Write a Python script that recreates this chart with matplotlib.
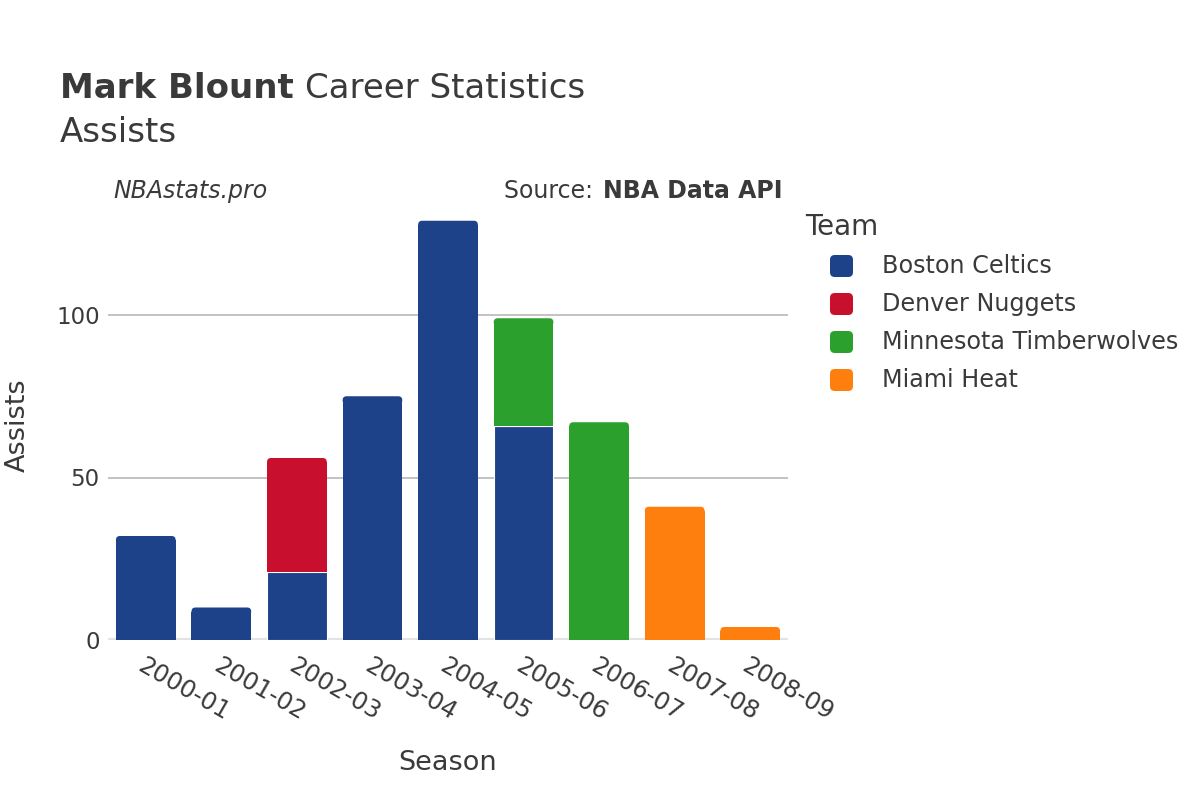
import numpy as np
import matplotlib
matplotlib.use("Agg")
import matplotlib.pyplot as plt
from matplotlib.patches import FancyBboxPatch

# Season assists per team
seasons = ["2000-01", "2001-02", "2002-03", "2003-04", "2004-05",
           "2005-06", "2006-07", "2007-08", "2008-09"]
teams = ["Boston Celtics", "Denver Nuggets", "Minnesota Timberwolves", "Miami Heat"]
boston = [32, 10, 21, 75, 129, 66, 0, 0, 0]
denver = [0, 0, 35, 0, 0, 0, 0, 0, 0]
minnesota = [0, 0, 0, 0, 0, 33, 67, 0, 0]
miami = [0, 0, 0, 0, 0, 0, 0, 41, 4]
colors = ["#1d428a", "#c8102e", "#2ca02c", "#ff7f0e"]

yticks = [0, 50, 100]
text_col = "#3a3a3a"

plt.rcParams["font.family"] = ["DejaVu Sans"]

fig = plt.figure(figsize=(12, 8), dpi=100)
ax_w, ax_h = 680, 430
ax = fig.add_axes([108 / 1200, 160 / 800, ax_w / 1200, ax_h / 800])

x = np.arange(len(seasons))
ymax = ax_h / 3.25
ax.set_xlim(-0.5, len(seasons) - 0.5)
ax.set_ylim(0, ymax)

# stacked bars, remember the top segment of each season
bottom = np.zeros(len(seasons))
top_patch = [None] * len(seasons)
for vals, col in zip([boston, denver, minnesota, miami], colors):
    vals = np.array(vals, dtype=float)
    bars = ax.bar(x, vals, width=0.79, bottom=bottom, color=col,
                  edgecolor="white", linewidth=0.8, zorder=3)
    for i, p in enumerate(bars.patches):
        if vals[i] > 0:
            top_patch[i] = p
    bottom += vals

# round the top corners (about 4 px)
px_x = len(seasons) / ax_w
px_y = ymax / ax_h
r_x = 4 * px_x
r_y = 4 * px_y
asp = px_y / px_x
for p in top_patch:
    x0, y0 = p.get_x(), p.get_y()
    w, h = p.get_width(), p.get_height()
    p.set_height(h - r_y)
    p.set_linewidth(0)
    rb = FancyBboxPatch((x0, y0 + h - 2 * r_y), w, 2 * r_y,
                        boxstyle="round,pad=0,rounding_size=%f" % r_x,
                        mutation_aspect=asp, facecolor=p.get_facecolor(),
                        edgecolor="none", linewidth=0, zorder=3)
    ax.add_patch(rb)

for s in ax.spines.values():
    s.set_visible(False)
ax.set_yticks(yticks)
ax.set_yticklabels([str(v) for v in yticks], fontsize=16.5, color=text_col)
ax.tick_params(axis="y", length=0, pad=6)
for v in yticks[1:]:
    ax.axhline(v, color="#bdbdbd", linewidth=1.3, zorder=1)
ax.axhline(0, color="#e3e3e3", linewidth=3, zorder=2)

ax.set_xticks(x)
ax.set_xticklabels(seasons, rotation=-30, ha="left", va="top",
                   rotation_mode="anchor", fontsize=17.5, color=text_col)
ax.tick_params(axis="x", length=0, pad=10)

ax.set_xlabel("Season", fontsize=19.5, color=text_col, labelpad=18)
ax.set_ylabel("Assists", fontsize=19.5, color=text_col, labelpad=18)

# titles
fig.text(60 / 1200, 1 - 88 / 800, "Mark Blount", fontsize=24.5,
         fontweight="bold", color=text_col, va="center", ha="left")
fig.text(305 / 1200, 1 - 88 / 800, "Career Statistics", fontsize=24.5,
         color=text_col, va="center", ha="left")
fig.text(60 / 1200, 1 - 132 / 800, "Assists", fontsize=24.5,
         color=text_col, va="center", ha="left")
fig.text(113 / 1200, 1 - 191 / 800, "NBAstats.pro", fontsize=17, style="italic",
         color=text_col, va="center", ha="left")
fig.text(603 / 1200, 1 - 191 / 800, "NBA Data API", fontsize=17, fontweight="bold",
         color=text_col, va="center", ha="left")
fig.text(600 / 1200, 1 - 191 / 800, "Source: ", fontsize=17,
         color=text_col, va="center", ha="right")

# legend
fig.text(805 / 1200, 1 - 227 / 800, "Team", fontsize=20, color=text_col,
         va="center", ha="left")
for i, (name, col) in enumerate(zip(teams, colors)):
    yc = 1 - (266 + 38 * i) / 800
    box = FancyBboxPatch((830 / 1200, yc - 11 / 800), 23 / 1200, 22 / 800,
                         boxstyle="round,pad=0,rounding_size=0.004",
                         transform=fig.transFigure, facecolor=col,
                         edgecolor="none", mutation_aspect=1.5)
    fig.patches.append(box)
    fig.text(882 / 1200, yc, name, fontsize=17.2, color=text_col,
             va="center", ha="left")

fig.savefig("out.png", dpi=100)
